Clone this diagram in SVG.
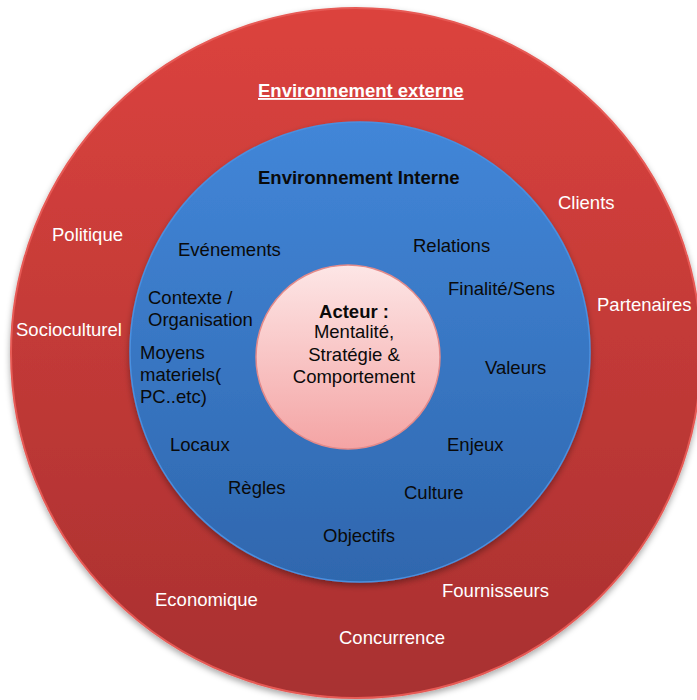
<svg xmlns="http://www.w3.org/2000/svg" width="697" height="700" viewBox="0 0 697 700">
<style>
text{font-family:"Liberation Sans",Arial,sans-serif;font-size:18.5px}
.w{fill:#ffffff}
.k{fill:#0a0a0a}
.b{font-weight:bold}
</style>
<defs>
<linearGradient id="gRed" x1="0" y1="0" x2="0" y2="1">
<stop offset="0" stop-color="#dc433e"/>
<stop offset="1" stop-color="#a83030"/>
</linearGradient>
<linearGradient id="gBlue" x1="0" y1="0" x2="0" y2="1">
<stop offset="0" stop-color="#4286d8"/>
<stop offset="1" stop-color="#2f67ae"/>
</linearGradient>
<linearGradient id="gPink" x1="0" y1="0" x2="0" y2="1">
<stop offset="0" stop-color="#fde6e6"/>
<stop offset="1" stop-color="#f4a4a4"/>
</linearGradient>
<filter id="sh" x="-10%" y="-10%" width="120%" height="125%">
<feDropShadow dx="0" dy="3" stdDeviation="3" flood-color="#000000" flood-opacity="0.35"/>
</filter>
</defs>
<rect width="697" height="700" fill="#ffffff"/>
<g id="externe">
<circle cx="356" cy="353" r="345" fill="url(#gRed)" stroke="#e65a55" stroke-width="2" filter="url(#sh)"/>
<text class="w b" x="258" y="97" text-decoration="underline">Environnement externe</text>
<text class="w" x="558" y="209">Clients</text>
<text class="w" x="52" y="241">Politique</text>
<text class="w" x="597" y="311">Partenaires</text>
<text class="w" x="16" y="336">Socioculturel</text>
<text class="w" x="155" y="606">Economique</text>
<text class="w" x="442" y="597">Fournisseurs</text>
<text class="w" x="339" y="644">Concurrence</text>
</g>
<g id="interne">
<circle cx="360" cy="352" r="230" fill="url(#gBlue)" stroke="#4a90e0" stroke-width="1.5" filter="url(#sh)"/>
<text class="k b" x="258" y="184">Environnement Interne</text>
<text class="k" x="178" y="256">Evénements</text>
<text class="k" x="413" y="252">Relations</text>
<text class="k" x="448" y="295">Finalité/Sens</text>
<text class="k" x="148" y="304">Contexte /</text>
<text class="k" x="148" y="326">Organisation</text>
<text class="k" x="140" y="359">Moyens</text>
<text class="k" x="140" y="381">materiels(</text>
<text class="k" x="140" y="403">PC..etc)</text>
<text class="k" x="485" y="374">Valeurs</text>
<text class="k" x="170" y="451">Locaux</text>
<text class="k" x="447" y="451">Enjeux</text>
<text class="k" x="228" y="494">Règles</text>
<text class="k" x="404" y="499">Culture</text>
<text class="k" x="323" y="542">Objectifs</text>
</g>
<g id="acteur">
<circle cx="348" cy="357" r="92" fill="url(#gPink)" stroke="#e38a8a" stroke-width="1.5"/>
<text class="k b" x="354" y="318" text-anchor="middle">Acteur :</text>
<text class="k" x="354" y="338" text-anchor="middle">Mentalité,</text>
<text class="k" x="354" y="361" text-anchor="middle">Stratégie &amp;</text>
<text class="k" x="354" y="383" text-anchor="middle">Comportement</text>
</g>
</svg>
